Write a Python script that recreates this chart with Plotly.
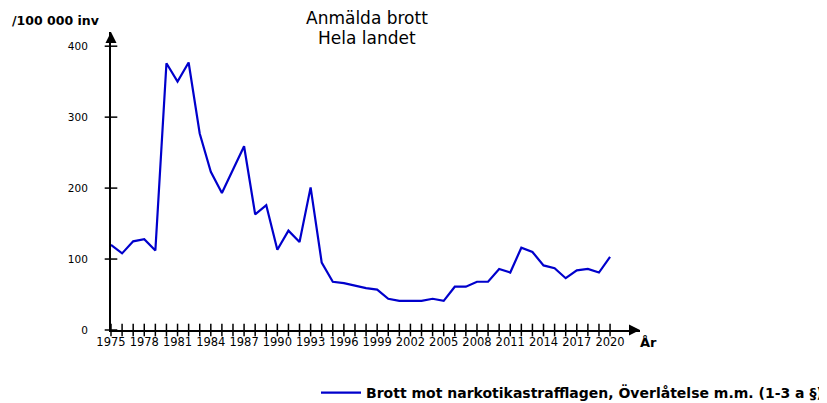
import plotly.graph_objects as go

years = list(range(1975, 2021))
values = [120, 108, 125, 128, 112, 376, 350, 377, 277, 223,
          193, 225, 259, 163, 176, 113, 140, 124, 201, 95,
          68, 66, 62, 59, 57, 44, 41, 41, 41, 44,
          41, 61, 61, 68, 68, 86, 81, 116, 110, 91,
          87, 73, 84, 86, 81, 103]
x_tick_labels = [str(y) for y in range(1975, 2021, 3)]
y_ticks = [0, 100, 200, 300, 400]
series_name = "Brott mot narkotikastrafflagen, Överlåtelse m.m. (1-3 a §)"
title_lines = ["Anmälda brott", "Hela landet"]
y_unit = "/100 000 inv"
x_unit = "År"

X_MAX = 2022.7
Y_MAX = 420
FONT = "DejaVu Sans"
OFF = 8  # page body margin of the browser
W, H = 827 - OFF, 403 - OFF
L, R, T, B = 103, 187, 24, 73
PW, PH = W - L - R, H - T - B


def px_x(px):
    # px given in reference-screen pixels
    return (px - OFF - L) / PW


def px_y(py):
    return (H - B - (py - OFF)) / PH


fig = go.Figure()

fig.add_trace(go.Scatter(
    x=years, y=values, mode="lines", name=series_name,
    line=dict(color="#0000CC", width=2.2), showlegend=True,
))

# crossing tick marks on x axis (every year)
fig.add_trace(go.Scatter(
    x=years, y=[0] * len(years), mode="markers",
    marker=dict(symbol="line-ns", size=9, line=dict(color="black", width=1.5)),
    showlegend=False, hoverinfo="skip", cliponaxis=False,
))
# crossing tick marks on y axis
fig.add_trace(go.Scatter(
    x=[1975] * len(y_ticks), y=y_ticks, mode="markers",
    marker=dict(symbol="line-ew", size=9, line=dict(color="black", width=1.5)),
    showlegend=False, hoverinfo="skip", cliponaxis=False,
))

annotations = [
    dict(x=X_MAX, y=0, ax=X_MAX - 1, ay=0, xref="x", yref="y", axref="x", ayref="y",
         showarrow=True, arrowhead=2, arrowsize=1.1, arrowwidth=2, arrowcolor="black", text=""),
    dict(x=1975, y=Y_MAX, ax=1975, ay=Y_MAX - 15, xref="x", yref="y", axref="x", ayref="y",
         showarrow=True, arrowhead=2, arrowsize=1.1, arrowwidth=2, arrowcolor="black", text=""),
    dict(x=px_x(10), y=px_y(20), xref="paper", yref="paper", text=y_unit, showarrow=False,
         xanchor="left", yanchor="middle",
         font=dict(family=FONT, size=12.5, color="black", weight="bold")),
    dict(x=px_x(648), y=px_y(342), xref="paper", yref="paper", text=x_unit, showarrow=False,
         xanchor="center", yanchor="middle",
         font=dict(family=FONT, size=13, color="black", weight="bold")),
]
for line_text, ypix in zip(title_lines, [18, 38]):
    annotations.append(dict(x=px_x(367), y=px_y(ypix), xref="paper", yref="paper",
                            text=line_text, showarrow=False,
                            xanchor="center", yanchor="middle",
                            font=dict(family=FONT, size=17, color="black")))

fig.update_layout(
    width=W, height=H,
    margin=dict(l=L, r=R, t=T, b=B, autoexpand=False),
    paper_bgcolor="white", plot_bgcolor="white",
    font=dict(family=FONT, size=10, color="black"),
    legend=dict(orientation="h", xref="container", yref="container",
                x=(316 - OFF) / W, y=(H - (393 - OFF)) / H, xanchor="left", yanchor="middle",
                font=dict(family=FONT, size=14, color="black", weight="bold"),
                itemwidth=40, bgcolor="rgba(0,0,0,0)"),
    xaxis=dict(range=[1975, X_MAX], showgrid=False, zeroline=False,
               showline=True, linecolor="black", linewidth=2, automargin=False,
               tickmode="array", tickvals=[int(t) for t in x_tick_labels],
               ticktext=x_tick_labels, ticks="", tickfont=dict(size=11.5)),
    yaxis=dict(range=[0, Y_MAX], showgrid=False, zeroline=False,
               showline=True, linecolor="black", linewidth=2, automargin=False,
               tickmode="array", tickvals=y_ticks, ticks="",
               ticklabelstandoff=19, tickfont=dict(size=10.5)),
    annotations=annotations,
)

fig.write_html("out.html")
